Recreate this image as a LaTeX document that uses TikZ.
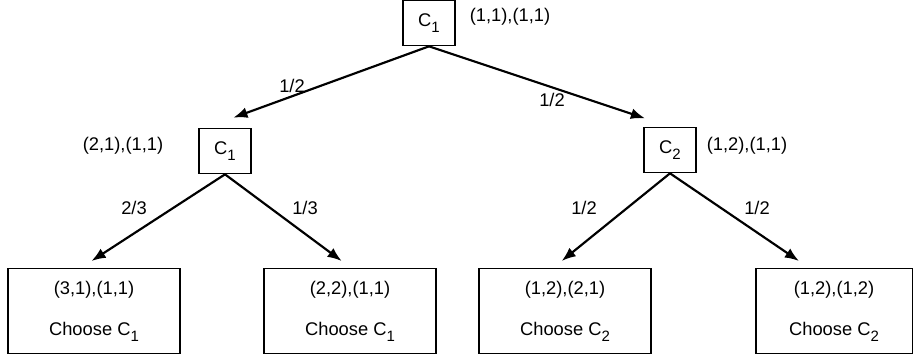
\documentclass[tikz,border=0pt]{standalone}
\usepackage{fontspec}
\setmainfont{Liberation Sans}
\usetikzlibrary{arrows.meta}
\newcommand{\Csub}[1]{C\raisebox{-0.55ex}{\small #1}}

\begin{document}
\begin{tikzpicture}[
  x=0.6pt, y=-0.6pt,
  every node/.style={font=\fontsize{11}{13}\selectfont},
  >={Latex[length=8.5pt,width=6.5pt]},
  chance/.style={draw,line width=1pt,minimum width=31.5pt,minimum height=27pt,inner sep=0pt},
  leaf/.style={draw,line width=1pt,minimum width=103pt,minimum height=51pt,
               align=center,inner sep=0pt},
  edge/.style={->,line width=1.3pt}
]
\useasboundingbox (0,0) rectangle (917,358);

% decision nodes
\node[chance] (R)  at (429,23)  {\Csub{1}};
\node[chance] (A1) at (225,151) {\Csub{1}};
\node[chance] (A2) at (670,150) {\Csub{2}};

% state labels
\node (sR)  at (510,17)  {(1,1),(1,1)};
\node (sA1) at (123,146) {(2,1),(1,1)};
\node (sA2) at (747,146) {(1,2),(1,1)};

% outcomes
\node[leaf] (L1) at (94,311)  {(3,1),(1,1)\\[12pt]Choose \Csub{1}};
\node[leaf] (L2) at (350,311) {(2,2),(1,1)\\[12pt]Choose \Csub{1}};
\node[leaf] (L3) at (565,311) {(1,2),(2,1)\\[12pt]Choose \Csub{2}};
\node[leaf,minimum width=94pt] (L4) at (834,311) {(1,2),(1,2)\\[12pt]Choose \Csub{2}};

\draw[edge] (R.south) -- ([xshift=5pt,yshift=6pt]A1.north);
\draw[edge] (R.south) -- ([xshift=-15pt,yshift=5pt]A2.north);
\draw[edge] (A1.south) -- ([xshift=-1.5pt,yshift=4pt]L1.north);
\draw[edge] (A1.south) -- ([xshift=-5pt,yshift=4pt]L2.north);
\draw[edge] (A2.south) -- ([xshift=-2pt,yshift=4pt]L3.north);
\draw[edge] (A2.south) -- ([xshift=-21pt,yshift=4pt]L4.north);

% probabilities
\node (p1) at (292,86)  {1/2};
\node (p2) at (552,100) {1/2};
\node (p3) at (134,208) {2/3};
\node (p4) at (305,208) {1/3};
\node (p5) at (584,208) {1/2};
\node (p6) at (757,208) {1/2};
\end{tikzpicture}
\end{document}
